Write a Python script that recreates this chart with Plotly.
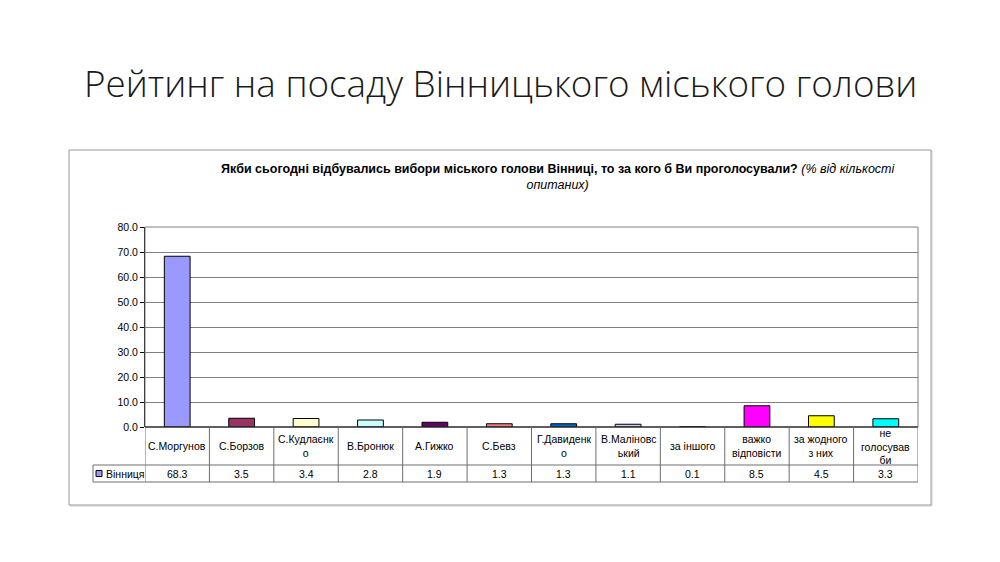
import plotly.graph_objects as go

W, H = 1000, 562

slide_title = "Рейтинг на посаду Вінницького міського голови"
chart_title_bold = "Якби сьогодні відбувались вибори міського голови Вінниці, то за кого б Ви проголосували?"
chart_title_italic1 = "(% від кількості"
chart_title_italic2 = "опитаних)"
series_name = "Вінниця"

categories = ["С.Моргунов", "С.Борзов", "С.Кудлаєнк<br>о", "В.Бронюк", "А.Гижко", "С.Бевз",
              "Г.Давиденк<br>о", "В.Маліновс<br>ький", "за іншого", "важко<br>відповісти",
              "за жодного<br>з них", "не<br>голосував<br>би"]
values = [68.3, 3.5, 3.4, 2.8, 1.9, 1.3, 1.3, 1.1, 0.1, 8.5, 4.5, 3.3]
colors = ["#9999FF", "#993366", "#FFFFCC", "#CCFFFF", "#660066", "#FF8080",
          "#0066CC", "#CCCCFF", "#000080", "#FF00FF", "#FFFF00", "#00FFFF"]


def py(p):
    return 1 - p / H


def px(p):
    return p / W


PL, PR, PT, PB = 145, 918, 227, 427   # plot area in pixels
ROW1, ROW2 = 465, 482                  # table row bottoms
LEG_L = 93
FONT = "Liberation Sans, Arial, sans-serif"
TABLE_LINE = "#6e6e6e"

n = len(categories)
xs = list(range(n))

fig = go.Figure()
fig.add_trace(go.Bar(
    x=xs, y=values, width=0.4,
    marker=dict(color=colors, line=dict(color="#000000", width=1)),
    showlegend=False, hoverinfo="x+y",
))

shapes = []
# soft shadow of the chart frame
shapes.append(dict(type="rect", xref="paper", yref="paper",
                   x0=px(70), x1=px(932), y0=py(506), y1=py(151),
                   line=dict(color="#d0d0d0", width=1), fillcolor="white", layer="below"))
# outer chart frame
shapes.append(dict(type="rect", xref="paper", yref="paper",
                   x0=px(69), x1=px(931), y0=py(505), y1=py(150),
                   line=dict(color="#9a9a9a", width=1), fillcolor="white", layer="below"))
# plot area border (grey)
shapes.append(dict(type="rect", xref="paper", yref="paper",
                   x0=px(PL), x1=px(PR), y0=py(PB), y1=py(PT),
                   line=dict(color="#808080", width=1), layer="above"))
# table horizontal lines
for yy in (PB, ROW1, ROW2):
    x0 = LEG_L if yy != PB else PL
    shapes.append(dict(type="line", xref="paper", yref="paper",
                       x0=px(x0), x1=px(PR), y0=py(yy), y1=py(yy),
                       line=dict(color="#000000" if yy == PB else TABLE_LINE, width=1)))
# table vertical lines at category boundaries
for i in range(n + 1):
    shapes.append(dict(type="line", xref="x", yref="paper",
                       x0=i - 0.5, x1=i - 0.5, y0=py(ROW2), y1=py(PB),
                       line=dict(color=TABLE_LINE, width=1)))
# legend cell left border
shapes.append(dict(type="line", xref="paper", yref="paper",
                   x0=px(LEG_L), x1=px(LEG_L), y0=py(ROW2), y1=py(ROW1),
                   line=dict(color=TABLE_LINE, width=1)))
# legend swatch
shapes.append(dict(type="rect", xref="paper", yref="paper",
                   x0=px(96), x1=px(102), y0=py(476.5), y1=py(470.5),
                   fillcolor=colors[0], line=dict(color="#000000", width=1)))

annotations = []
annotations.append(dict(text=slide_title, xref="paper", yref="paper",
                        x=0.5, y=py(83), xanchor="center", yanchor="middle",
                        showarrow=False,
                        font=dict(family="Open Sans, sans-serif", size=36.8, color="#1a1a1a", weight=300)))
annotations.append(dict(text="<b>" + chart_title_bold + "</b> <i>" + chart_title_italic1 + "</i><br><i>" + chart_title_italic2 + "</i>",
                        xref="paper", yref="paper", x=px(558), y=py(177),
                        xanchor="center", yanchor="middle", align="center", showarrow=False,
                        font=dict(family=FONT, size=12.5, color="#000000")))
for i, (c, v) in enumerate(zip(categories, values)):
    annotations.append(dict(text=c, xref="x", yref="paper", x=i, y=py((PB + ROW1) / 2),
                            xanchor="center", yanchor="middle", showarrow=False, align="center",
                            font=dict(family=FONT, size=10.5, color="#000000")))
    annotations.append(dict(text=f"{v:.1f}", xref="x", yref="paper", x=i, y=py((ROW1 + ROW2) / 2),
                            xanchor="center", yanchor="middle", showarrow=False,
                            font=dict(family=FONT, size=10.5, color="#000000")))
annotations.append(dict(text=series_name, xref="paper", yref="paper", x=px(103.5), y=py((ROW1 + ROW2) / 2),
                        xanchor="left", yanchor="middle", showarrow=False,
                        font=dict(family=FONT, size=10.5, color="#000000")))

fig.update_layout(
    template="none",
    width=W, height=H,
    margin=dict(l=0, r=0, t=0, b=0, pad=0, autoexpand=False),
    paper_bgcolor="white",
    plot_bgcolor="#C8C8C8",
    shapes=shapes,
    annotations=annotations,
    xaxis=dict(domain=[px(PL), px(PR)], range=[-0.5, n - 0.5], showticklabels=False,
               showgrid=False, zeroline=False, ticks="", fixedrange=True, automargin=False),
    yaxis=dict(domain=[py(PB), py(PT)], range=[0, 80], dtick=10, tickformat=".1f",
               showgrid=True, gridcolor="#7f7f7f", gridwidth=1, zeroline=False,
               showline=True, linecolor="#000000", linewidth=1, automargin=False,
               ticks="outside", ticklen=4, tickcolor="#000000",
               tickfont=dict(family=FONT, size=10.5, color="#000000")),
)

fig.write_html("out.html", config={"displayModeBar": False},
               post_script="document.body.style.margin='0';document.body.style.overflow='hidden';")
